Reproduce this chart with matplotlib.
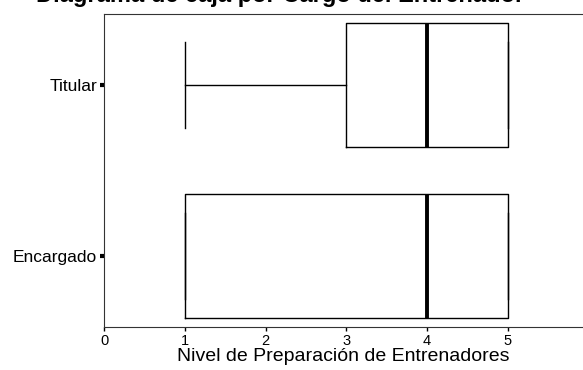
import matplotlib
matplotlib.use('Agg')
import matplotlib.pyplot as plt

plt.rcParams['font.family'] = ['Liberation Sans', 'DejaVu Sans']

# datos
cargos = ['Encargado', 'Titular']
minimo = [1, 1]
q1 = [1, 3]
mediana = [4, 4]
q3 = [5, 5]
maximo = [5, 5]
xticks = [0, 1, 2, 3, 4, 5]

stats = []
for i, c in enumerate(cargos):
    stats.append({'label': c, 'whislo': minimo[i], 'q1': q1[i], 'med': mediana[i],
                  'q3': q3[i], 'whishi': maximo[i], 'fliers': []})

fig = plt.figure(figsize=(5.83, 3.70), dpi=100)
ax = fig.add_axes([0.1784, 0.1162, 0.8216, 0.846])

ax.bxp(stats, positions=[1, 2], orientation='horizontal', widths=0.72,
       capwidths=0.5, showfliers=False,
       boxprops=dict(color='black', linewidth=1),
       whiskerprops=dict(color='black', linewidth=1),
       capprops=dict(color='black', linewidth=1),
       medianprops=dict(color='black', linewidth=2.8, solid_capstyle='butt'))

ax.set_xlim(0, 5.93)
ax.set_ylim(0.585, 2.415)
ax.set_xticks(xticks)
ax.set_xticklabels([str(t) for t in xticks], fontsize=10.5)
ax.set_yticks([1, 2])
ax.set_yticklabels(cargos, fontsize=12.5)
ax.tick_params(axis='y', length=3, width=3, pad=2)
ax.tick_params(axis='x', length=3, width=1, pad=2)
ax.spines['right'].set_visible(False)
for s in ['top', 'left', 'bottom']:
    ax.spines[s].set_color('#333333')
ax.set_xlabel('Nivel de Preparación de Entrenadores', fontsize=14, labelpad=0)

# el titulo queda casi fuera de la imagen, como en el original
fig.text(0.48, 0.995, 'Diagrama de caja por Cargo del Entrenador', ha='center',
         va='baseline', fontsize=17, fontweight='bold')

fig.savefig('out.png', dpi=100)
